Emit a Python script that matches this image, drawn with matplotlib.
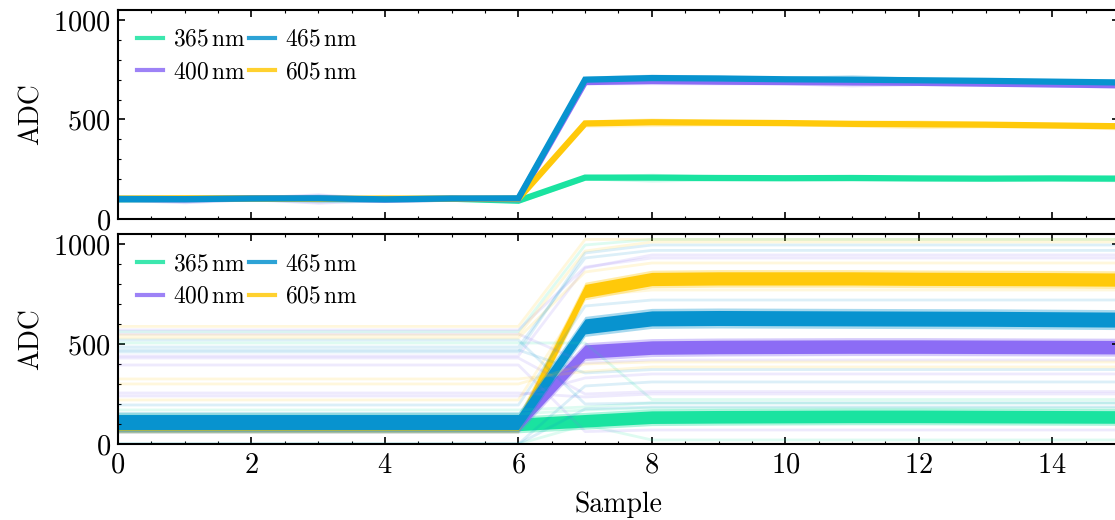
import numpy as np
import matplotlib
matplotlib.use('Agg')
import matplotlib.pyplot as plt
from matplotlib.lines import Line2D
from matplotlib.ticker import MultipleLocator

plt.rcParams.update({'font.family': ['cmr10', 'DejaVu Serif'],
                     'mathtext.fontset': 'cm',
                     'axes.formatter.use_mathtext': True,
                     'axes.linewidth': 1.5,
                     'xtick.direction': 'in', 'ytick.direction': 'in',
                     'xtick.top': True, 'ytick.right': True,
                     'xtick.major.size': 5, 'ytick.major.size': 5,
                     'xtick.minor.size': 2.5, 'ytick.minor.size': 2.5,
                     'xtick.major.width': 1.2, 'ytick.major.width': 1.2,
                     'xtick.minor.width': 0.8, 'ytick.minor.width': 0.8,
                     'xtick.major.pad': 6, 'ytick.major.pad': 5,
                     'xtick.labelsize': 20.5, 'ytick.labelsize': 20.5})

samples = np.arange(16)
labels = [r'365$\,$nm', r'400$\,$nm', r'465$\,$nm', r'605$\,$nm']
colors = ['#1ae3a0', '#8c6cf5', '#0893cf', '#ffc90a']

# top panel: one bundle per wavelength (centre and half spread of the faint traces)
top_365 = [98, 100, 103, 101, 99, 102, 92, 208, 208, 206, 205, 206, 204, 203, 204, 203]
top_400 = [100, 99, 104, 103, 98, 102, 100, 688, 693, 690, 688, 686, 684, 680, 676, 672]
top_465 = [101, 100, 103, 104, 99, 103, 104, 700, 708, 706, 702, 700, 697, 694, 690, 686]
top_605 = [103, 104, 103, 101, 103, 102, 102, 480, 486, 484, 482, 478, 476, 474, 470, 466]
top_spread_365 = [10, 10, 10, 10, 10, 10, 12, 12, 22, 14, 12, 14, 12, 12, 12, 16]
top_spread_400 = [10, 22, 12, 28, 10, 14, 12, 14, 18, 16, 14, 22, 14, 12, 12, 16]
top_spread_465 = [10, 18, 12, 22, 10, 12, 12, 18, 20, 16, 14, 26, 14, 12, 12, 20]
top_spread_605 = [14, 12, 14, 12, 14, 12, 12, 18, 22, 16, 14, 16, 22, 16, 14, 18]

# bottom panel: main bundles (centre and half width)
bot_365 = [98, 98, 98, 98, 98, 98, 98, 116, 134, 136, 137, 138, 138, 137, 136, 135]
bot_400 = [100, 100, 100, 100, 100, 100, 100, 462, 482, 485, 486, 487, 487, 486, 485, 484]
bot_465 = [110, 110, 110, 110, 110, 110, 110, 588, 628, 630, 629, 628, 627, 626, 624, 622]
bot_605 = [100, 100, 100, 100, 100, 100, 100, 765, 825, 828, 828, 828, 826, 825, 824, 822]
bot_halfwidth = [42, 45, 50, 44]

# bottom panel: faint single traces (level before step, at sample 7, after)
faint_365 = [(505, 505, 222), (170, 185, 205), (0, 95, 20), (562, 995, 1023), (150, 170, 180)]
faint_400 = [(570, 885, 930), (550, 405, 420), (430, 250, 262), (395, 62, 70),
             (255, 235, 250), (440, 880, 945), (240, 330, 350)]
faint_465 = [(485, 930, 968), (460, 955, 995), (195, 690, 720), (0, 290, 310),
             (520, 200, 205), (0, 175, 185), (470, 355, 372)]
faint_605 = [(588, 1023, 1023), (530, 860, 905), (325, 362, 385), (220, 740, 770),
             (545, 965, 1010), (300, 400, 410)]

top_data = [top_365, top_400, top_465, top_605]
top_spread = [top_spread_365, top_spread_400, top_spread_465, top_spread_605]
bot_data = [bot_365, bot_400, bot_465, bot_605]
faint = [faint_365, faint_400, faint_465, faint_605]
order = [0, 1, 3, 2]  # blue drawn last

fig = plt.figure(figsize=(11.15, 5.2), dpi=100)
ax1 = fig.add_axes([0.1058, 0.5788, 0.8978, 0.402])
ax2 = fig.add_axes([0.1058, 0.1462, 0.8978, 0.4038])

for i in order:
    y = np.array(top_data[i], float)
    s = np.array(top_spread[i], float)
    ax1.fill_between(samples, y - s, y + s, color=colors[i], alpha=0.2, lw=0)
    ax1.plot(samples, y, color=colors[i], lw=4.5, solid_joinstyle='miter')

for i in order:
    for pre, x7, post in faint[i]:
        ax2.plot(samples, [pre] * 7 + [x7] + [post] * 8, color=colors[i], alpha=0.14, lw=2)

for i in order:
    y = np.array(bot_data[i], float)
    h = bot_halfwidth[i]
    ax2.fill_between(samples, y - h, y + h, color=colors[i], alpha=0.35, lw=0)
    ax2.fill_between(samples, y - 0.75 * h, y + 0.75 * h, color=colors[i], alpha=1, lw=0)

handles = [Line2D([0], [0], color=c, lw=3, alpha=0.85) for c in colors]
for ax in [ax1, ax2]:
    ax.set_xlim(0, 15)
    ax.set_ylim(0, 1050)
    ax.set_yticks([0, 500, 1000])
    ax.xaxis.set_major_locator(MultipleLocator(2))
    ax.xaxis.set_minor_locator(MultipleLocator(0.5))
    ax.yaxis.set_minor_locator(MultipleLocator(100))
    ax.set_ylabel('ADC', fontsize=20, labelpad=6)
    ax.legend(handles, labels, ncol=2, loc='upper left', frameon=False, fontsize=17,
              handlelength=1.1, handletextpad=0.42, columnspacing=0.12, labelspacing=0.45,
              borderaxespad=0.4)
ax1.tick_params(labelbottom=False)
ax2.set_xlabel('Sample', fontsize=20, labelpad=9)

fig.savefig('out.png', dpi=100)
